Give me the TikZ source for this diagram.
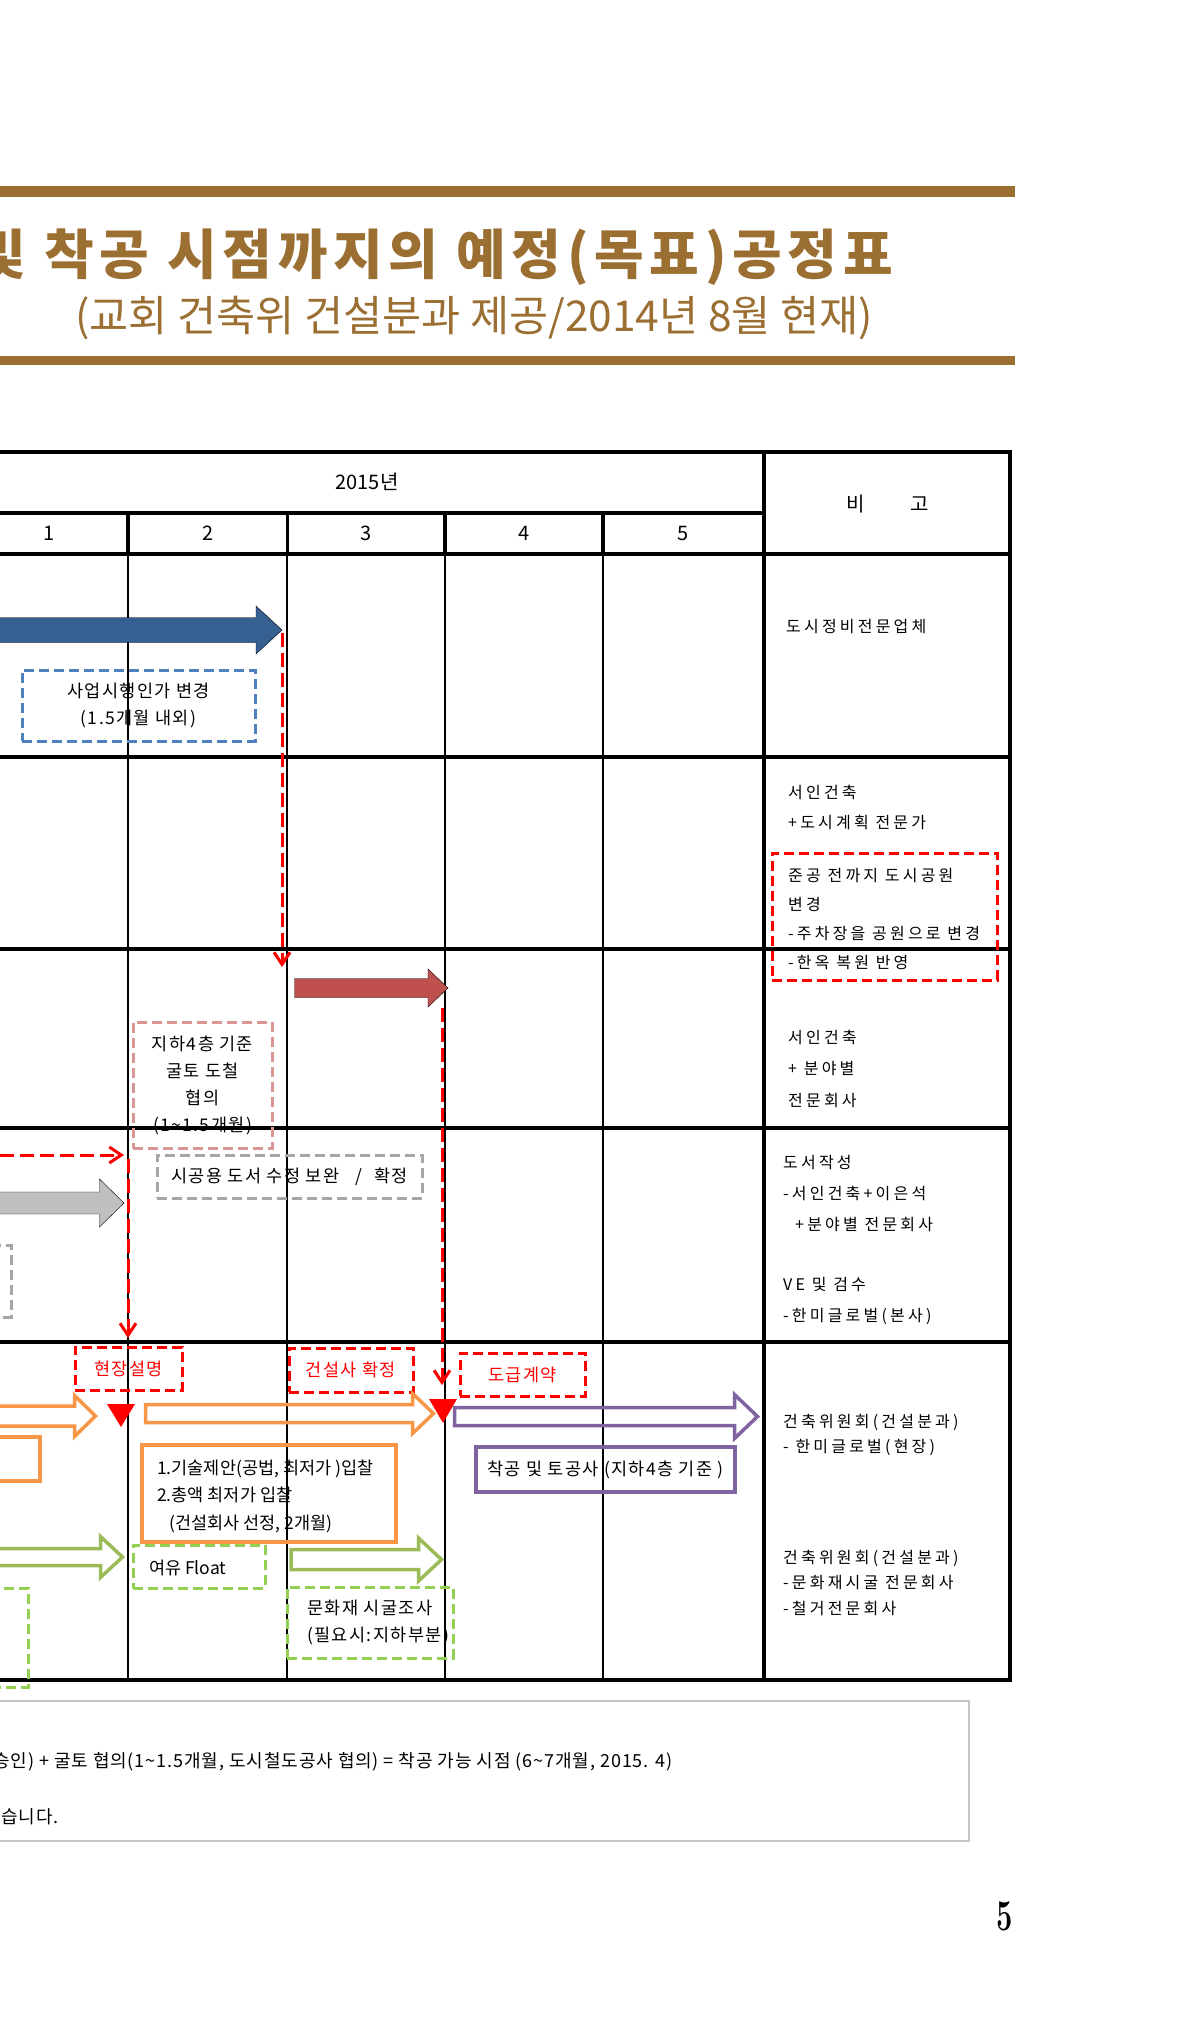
\documentclass[tikz,border=0pt]{standalone}
\usepackage{fontspec}
\usetikzlibrary{arrows.meta}
\newfontfamily\krfont{Noto Sans CJK KR}
\newfontfamily\krcell[LetterSpace=8]{Noto Sans CJK KR}
\newfontfamily\krnote[LetterSpace=5]{Noto Sans CJK KR}
\newfontfamily\krwide[LetterSpace=20]{Noto Sans CJK KR}
\newfontfamily\krtitle[LetterSpace=10.5]{Noto Sans CJK KR}
\definecolor{gold}{RGB}{155,110,50}
\definecolor{navyfill}{RGB}{55,96,146}
\definecolor{boxblue}{RGB}{79,129,189}
\definecolor{brick}{RGB}{192,80,77}
\definecolor{rosebox}{RGB}{217,150,148}
\definecolor{greyfill}{RGB}{191,191,191}
\definecolor{greybox}{RGB}{166,166,166}
\definecolor{orangeline}{RGB}{247,150,70}
\definecolor{purpleline}{RGB}{128,100,162}
\definecolor{greenline}{RGB}{155,187,89}
\definecolor{greenbox}{RGB}{146,208,80}
\newcommand{\planarrow}[7]{%
  \draw[#1] (#2,#4-#5) -- (#3-#7,#4-#5) -- (#3-#7,#4-#6) -- (#3,#4) -- (#3-#7,#4+#6) -- (#3-#7,#4+#5) -- (#2,#4+#5) -- cycle;}
\begin{document}
\begin{tikzpicture}[x=1pt,y=-1pt,inner sep=0pt,
  rowline/.style={line width=4pt},
  headline/.style={line width=3.5pt},
  colline/.style={line width=2pt},
  reddash/.style={red,line width=3pt,dash pattern=on 14pt off 6pt,-{Straight Barb[length=12pt,width=16pt]}},
  dashbox/.style={draw,line width=3pt,dash pattern=on 10pt off 5pt},
  celltxt/.style={font=\krcell\fontsize{17.5}{27}\selectfont},
  remark/.style={font=\krwide\fontsize{16}{30}\selectfont,anchor=west,align=left},
  headtxt/.style={font=\krfont\fontsize{20}{24}\selectfont}]
\useasboundingbox (0,0) rectangle (1200,2030);
\fill[white] (0,0) rectangle (1200,2030);
\clip (0,0) rectangle (1200,2030);

\fill[gold] (0,186) rectangle (1015,197);
\fill[gold] (0,356) rectangle (1015,365);
\node[anchor=east,text=gold,font=\krtitle\bfseries\fontsize{54}{60}\selectfont] (title) at (893,257) {및 착공 시점까지의 예정(목표)공정표};
\node[anchor=east,text=gold,font=\krfont\fontsize{42.5}{46}\selectfont] (subtitle) at (873,318) {(교회 건축위 건설분과 제공/2014년 8월 현재)};

\draw[rowline] (-10,452) -- (1010,452) -- (1010,1680) -- (-10,1680);
\draw[rowline] (-10,512.6) -- (764,512.6);
\foreach \y in {554,757,949,1127.5,1342}
  \draw[rowline] (-10,\y) -- (1010,\y);
\draw[rowline] (764,452) -- (764,1680);
\foreach \x in {128,287.4,445,603} {
  \draw[headline] (\x,512.6) -- (\x,554);
  \draw[colline] (\x,554) -- (\x,1680);
}
\node[headtxt] (year) at (367,482) {2015년};
\foreach \m/\x in {1/49,2/208,3/366,4/524,5/683}
  \node[headtxt] (month\m) at (\x,533) {\m};
\node[headtxt] (bigo1) at (856,504) {비};
\node[headtxt] (bigo2) at (920,504) {고};

\node[remark] (note1) at (786,627) {도시정비전문업체};
\node[remark] (note2) at (788,807.5) {서인건축\\+도시계획 전문가};
\node[dashbox,draw=red,minimum width=225pt,minimum height=127pt] (parkbox) at (884.5,916.5) {};
\node[remark,font=\krwide\fontsize{16}{28.7}\selectfont] (parktxt) at (788,919) {준공 전까지 도시공원\\변경\\-주차장을 공원으로 변경\\-한옥 복원 반영};
\node[remark,font=\krwide\fontsize{16}{31.5}\selectfont] (note3) at (788,1068.5) {서인건축\\+ 분야별\\전문회사};
\node[remark,font=\krwide\fontsize{16}{31}\selectfont] (note4a) at (783,1193.5) {도서작성\\-서인건축+이은석\\\hspace{12pt}+분야별 전문회사};
\node[remark,font=\krwide\fontsize{16}{31}\selectfont] (note4b) at (783,1301) {VE 및 검수\\-한미글로벌(본사)};
\node[remark,font=\krwide\fontsize{16}{25}\selectfont] (note5a) at (783,1434.5) {건축위원회(건설분과)\\- 한미글로벌(현장)};
\node[remark,font=\krwide\fontsize{16}{25.5}\selectfont] (note5b) at (783,1582.5) {건축위원회(건설분과)\\-문화재시굴 전문회사\\-철거전문회사};

\planarrow{fill=navyfill}{-30}{282}{630}{12.5}{24}{26}
\node[dashbox,draw=boxblue,minimum width=233pt,minimum height=71pt,celltxt,align=center] (permit) at (138.5,705.5) {사업시행인가 변경\\(1.5개월 내외)};

\planarrow{fill=brick}{294.5}{448}{988}{9.5}{19}{20}
\node[dashbox,draw=rosebox,minimum width=139pt,minimum height=126pt,celltxt,align=center] (excav) at (202.5,1085) {지하4층 기준\\굴토 도철\\협의\\(1\textasciitilde1.5개월)};

\planarrow{fill=greyfill}{-30}{124}{1203}{11}{24}{24.5}
\node[dashbox,draw=greybox,minimum width=265pt,minimum height=43pt,celltxt] (drawings) at (289.5,1176.5) {시공용 도서 수정 보완\hspace{16pt}/\hspace{12pt}확정};
\draw[dashbox,draw=greybox] (-30,1245) rectangle (11,1317);

\node[dashbox,draw=red,minimum width=107pt,minimum height=43pt,celltxt,text=red] (briefing) at (128.5,1368.5) {현장설명};
\node[dashbox,draw=red,minimum width=124pt,minimum height=44pt,celltxt,text=red] (builder) at (351,1370) {건설사 확정};
\node[dashbox,draw=red,minimum width=125pt,minimum height=43pt,celltxt,text=red] (contract) at (522.5,1374.5) {도급계약};
\fill[red] (107,1404) -- (135,1404) -- (121,1427) -- cycle;
\fill[red] (429,1399) -- (457,1399) -- (443,1423) -- cycle;

\planarrow{draw=orangeline,line width=3.5pt}{-30}{95.5}{1416}{10}{20.5}{21}
\planarrow{draw=orangeline,line width=3.5pt}{145.5}{433.5}{1413.5}{9}{20}{21}
\draw[orangeline,line width=3.5pt] (-30,1437) rectangle (40,1481);
\node[draw=orangeline,line width=3.5pt,minimum width=254pt,minimum height=97pt] (bidbox) at (269,1493.5) {};
\node[anchor=west,align=left,font=\krfont\fontsize{17.5}{27.5}\selectfont] (bidding) at (157,1496) {1.기술제안(공법, 최저가 )입찰\\2.총액 최저가 입찰\\\hspace{12pt}(건설회사 선정, 2개월)};

\planarrow{draw=purpleline,line width=3.5pt}{454.5}{757.5}{1416.5}{9}{22}{23}
\node[draw=purpleline,line width=3.5pt,minimum width=259pt,minimum height=45pt,celltxt] (earthwork) at (605.5,1469.5) {착공 및 토공사 (지하4층 기준 )};

\planarrow{draw=greenline,line width=3.5pt}{-30}{122.5}{1557}{8.5}{20.5}{22}
\planarrow{draw=greenline,line width=3.5pt}{291}{441.5}{1559.5}{10}{21.5}{23}
\node[dashbox,draw=greenbox,minimum width=132pt,minimum height=43pt] (floatbox) at (199,1566.5) {};
\node[anchor=west,font=\krfont\fontsize{17.5}{27}\selectfont] (floattxt) at (149,1568) {여유 Float};
\node[dashbox,draw=greenbox,minimum width=166pt,minimum height=71pt,celltxt,align=center] (survey) at (370,1622.5) {문화재 시굴조사\\\hspace{16pt}(필요시:지하부분)};
\draw[dashbox,draw=greenbox] (-30,1588) rectangle (28,1687);

\coordinate (bluetip) at (282,633);
\coordinate (brickin) at (282,967);
\coordinate (bricktip) at (442,1008);
\coordinate (contractin) at (442,1385);
\coordinate (leftin) at (-20,1155);
\coordinate (drawin) at (124,1155);
\coordinate (drawdown) at (128,1159);
\coordinate (briefin) at (128,1338);
\draw[reddash] (bluetip) -- (brickin);
\draw[reddash] (bricktip) -- (contractin);
\draw[reddash] (leftin) -- (drawin);
\draw[reddash] (drawdown) -- (briefin);

\draw[gray!45,line width=1.5pt] (-10,1701) rectangle (969,1841);
\node[anchor=west,font=\krnote\fontsize{18}{20}\selectfont] (sum) at (-7,1762) {승인) + 굴토 협의(1\textasciitilde1.5개월, 도시철도공사 협의) = 착공 가능 시점 (6\textasciitilde7개월, 2015. 4)};
\node[anchor=west,font=\krnote\fontsize{18}{20}\selectfont] (end) at (1,1817) {습니다.};

\node[font=\bfseries\fontsize{44}{44}\selectfont] (page) at (1004.5,1916) {\scalebox{0.66}[1]{5}};
\end{tikzpicture}
\end{document}
